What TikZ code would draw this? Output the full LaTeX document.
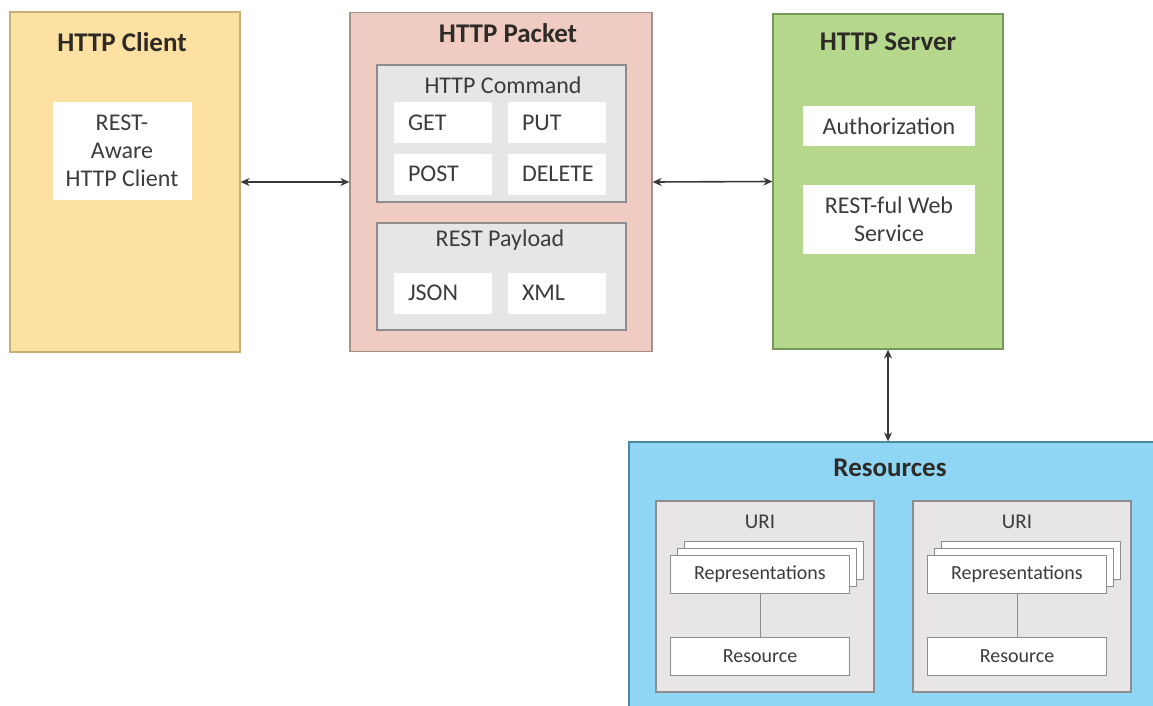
\documentclass[tikz,border=0pt]{standalone}
\usepackage{fontspec}
\setmainfont{Carlito}
\usetikzlibrary{arrows.meta}
\definecolor{clientfill}{HTML}{FDE1A3}
\definecolor{clientline}{HTML}{C9AE78}
\definecolor{packetfill}{HTML}{EFCBC1}
\definecolor{packetline}{HTML}{A4928D}
\definecolor{serverfill}{HTML}{B5D88D}
\definecolor{serverline}{HTML}{76995A}
\definecolor{resfill}{HTML}{8FD5F4}
\definecolor{resline}{HTML}{4C87A3}
\definecolor{greyfill}{HTML}{E7E5E5}
\definecolor{greyline}{HTML}{8E8C8C}
\definecolor{bodytext}{HTML}{3C3C3C}
\definecolor{titletext}{HTML}{2E2A26}
\definecolor{arrowcol}{HTML}{3A3A3A}
\begin{document}
\begin{tikzpicture}[x=1pt,y=-1pt,
    panel/.style={rectangle,draw,line width=1.2pt,inner sep=0pt},
    title/.style={font=\fontsize{27}{32}\selectfont\bfseries,text=titletext},
    label/.style={font=\fontsize{24}{29}\selectfont,text=bodytext},
    greybox/.style={rectangle,draw=greyline,fill=greyfill,line width=1.2pt,inner sep=0pt},
    whitebox/.style={rectangle,fill=white,inner sep=0pt,font=\fontsize{24}{28}\selectfont,text=bodytext},
    cmd/.style={whitebox,minimum width=98pt,minimum height=41pt,text width=70pt,align=left},
    repbox/.style={rectangle,draw=greyline,fill=white,line width=0.8pt,inner sep=0pt,
      minimum width=179pt,minimum height=38pt,font=\fontsize{20}{24}\selectfont,text=bodytext},
    link/.style={{Stealth[length=9pt,width=8pt]}-{Stealth[length=9pt,width=8pt]},line width=1.6pt,draw=arrowcol}]
  \clip (0,0) rectangle (1153,706); % picture frame
  % HTTP Client
  \node[panel,draw=clientline,fill=clientfill,minimum width=230pt,minimum height=340pt] (client) at (125,182) {};
  \node[title] (clienttitle) at (122,42) {HTTP Client};
  \node[whitebox,minimum width=139pt,minimum height=98pt,align=center] (aware) at (122,151) {REST-\\Aware\\HTTP Client};
  % HTTP Packet
  \node[panel,draw=packetline,fill=packetfill,minimum width=302pt,minimum height=339pt] (packet) at (501,182) {};
  \node[title] (packettitle) at (508,33) {HTTP Packet};
  \node[greybox,minimum width=249pt,minimum height=137pt] (command) at (501.5,133.5) {};
  \node[label] (commandtitle) at (503,85) {HTTP Command};
  \node[cmd] (get) at (443,122.5) {GET};
  \node[cmd] (put) at (557,122.5) {PUT};
  \node[cmd] (post) at (443,174) {POST};
  \node[cmd] (delete) at (557,174) {DELETE};
  \node[greybox,minimum width=249pt,minimum height=107pt] (payload) at (501.5,276.5) {};
  \node[label] (payloadtitle) at (500,240) {REST Payload};
  \node[cmd] (json) at (443,293) {JSON};
  \node[cmd] (xml) at (557,293) {XML};
  % HTTP Server
  \node[panel,draw=serverline,fill=serverfill,minimum width=230pt,minimum height=335pt] (server) at (888,181.5) {};
  \node[title] (servertitle) at (888,42) {HTTP Server};
  \node[whitebox,minimum width=172pt,minimum height=40pt] (auth) at (889,126) {Authorization};
  \node[whitebox,minimum width=172pt,minimum height=69pt,align=center] (webservice) at (889,219.5) {REST-ful Web\\Service};
  % Resources
  \node[panel,draw=resline,fill=resfill,minimum width=530pt,minimum height=280pt] (resources) at (894,582) {};
  \node[title] (restitle) at (890,468) {Resources};
  \foreach \n/\cx in {1/765,2/1022} {
    \node[greybox,minimum width=218pt,minimum height=191pt] (uri\n) at (\cx,596.5) {};
    \node[label,font=\fontsize{21}{24}\selectfont] (urititle\n) at (\cx-5,522) {URI};
    \node[repbox] (repc\n) at (\cx+9,560) {}; % back layer
    \node[repbox] (repb\n) at (\cx+2,567) {}; % middle layer
    \node[repbox] (rep\n) at (\cx-5,574) {Representations};
    \node[repbox] (res\n) at (\cx-5,656) {Resource};
    \draw[greyline,line width=0.8pt] (rep\n.south) -- (res\n.north); % rep -> resource
  }
  % connectors
  \draw[link] (client.east) -- (packet.west);
  \draw[link] (packet.east) -- (server.west);
  \draw[link] (server.south) -- (server.south |- resources.north);
\end{tikzpicture}
\end{document}
